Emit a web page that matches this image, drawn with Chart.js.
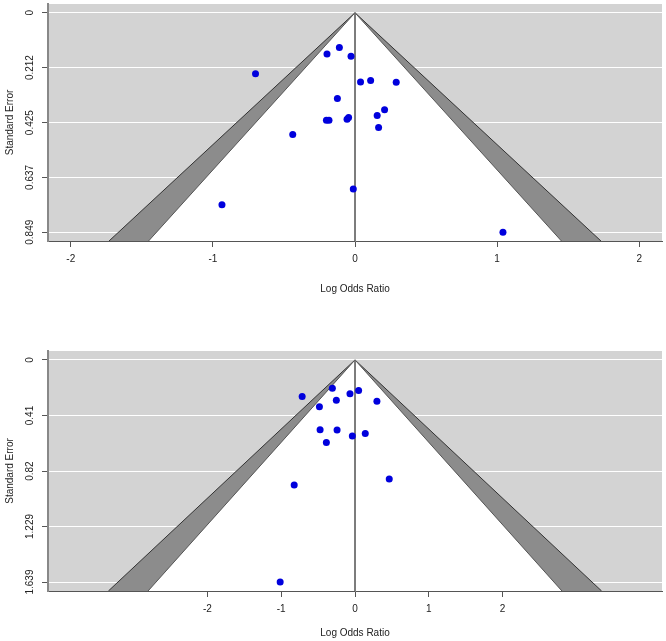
<!DOCTYPE html>
<html>
<head>
<meta charset="utf-8">
<script src="https://cdn.jsdelivr.net/npm/chart.js@4.4.1/dist/chart.umd.min.js"></script>
<style>
body { margin: 0; background: #fff; }
canvas { position: absolute; left: 0; }
#funnelTop { top: 0; }
#funnelBottom { top: 340px; }
</style>
</head>
<body>
<canvas id="funnelTop" width="666" height="300"></canvas>
<canvas id="funnelBottom" width="666" height="301"></canvas>
<script>
// top funnel plot
const topLogOR = [-0.70, -0.197, -0.110, -0.028, 0.039, 0.110, 0.290, -0.124, 0.208, 0.156,
                  0.166, -0.201, -0.183, -0.056, -0.045, -0.438, -0.012, -0.936, 1.041];
const topSE = [0.236, 0.159, 0.134, 0.168, 0.268, 0.262, 0.269, 0.332, 0.375, 0.397,
               0.444, 0.416, 0.416, 0.412, 0.405, 0.471, 0.682, 0.743, 0.849];
const topYTicks = [0, 0.212, 0.425, 0.637, 0.849];
const topYLabels = ['0', '0.212', '0.425', '0.637', '0.849'];
const topXTicks = [-2, -1, 0, 1, 2];
const topXLabels = ['-2', '-1', '0', '1', '2'];

// bottom funnel plot
const botLogOR = [-0.307, -0.716, -0.068, 0.049, -0.253, -0.482, 0.297, -0.473, -0.243, -0.036,
                  0.139, -0.388, -0.824, 0.464, -1.014];
const botSE = [0.208, 0.270, 0.250, 0.226, 0.297, 0.346, 0.305, 0.515, 0.517, 0.562,
               0.542, 0.609, 0.923, 0.879, 1.639];
const botYTicks = [0, 0.41, 0.82, 1.229, 1.639];
const botYLabels = ['0', '0.41', '0.82', '1.229', '1.639'];
const botXTicks = [-2, -1, 0, 1, 2];
const botXLabels = ['-2', '-1', '0', '1', '2'];

// contour levels: white inside 90%, dark grey between 90% and 95%
const zInner = 1.645, zOuter = 1.96;

const FONT = "'Liberation Sans', Arial, sans-serif";
Chart.defaults.font.family = FONT;
Chart.defaults.font.size = 10;
Chart.defaults.color = '#222';

const greyBg = {
  id: 'greyBg',
  beforeDraw(chart) {
    const a = chart.chartArea, ctx = chart.ctx;
    ctx.save();
    ctx.fillStyle = '#d3d3d3';
    ctx.fillRect(a.left, a.top, a.right - a.left, a.bottom - a.top);
    ctx.restore();
  }
};

function funnel(id, logOR, se, o) {
  const yMax = o.yMax;
  const outer = [{x: -zOuter * yMax, y: yMax}, {x: 0, y: 0}, {x: zOuter * yMax, y: yMax}];
  const inner = [{x: -zInner * yMax, y: yMax}, {x: 0, y: 0}, {x: zInner * yMax, y: yMax}];

  // rotated y tick labels, like R
  const yLabels = {
    id: 'yLabels',
    afterDraw(chart) {
      const ys = chart.scales.y, ctx = chart.ctx;
      ctx.save();
      ctx.font = '10px ' + FONT;
      ctx.fillStyle = '#222';
      ctx.textAlign = 'center';
      ctx.textBaseline = 'middle';
      o.yTicks.forEach((v, i) => {
        ctx.save();
        ctx.translate(30, ys.getPixelForValue(v));
        ctx.rotate(-Math.PI / 2);
        ctx.fillText(o.yLabels[i], 0, 0);
        ctx.restore();
      });
      ctx.restore();
    }
  };

  return new Chart(document.getElementById(id), {
    type: 'scatter',
    data: {
      datasets: [
        { data: logOR.map((v, i) => ({x: v, y: se[i]})), backgroundColor: '#0000dd',
          pointRadius: 3.5, pointBorderWidth: 0, order: 0 },
        { type: 'line', data: [{x: 0, y: 0}, {x: 0, y: yMax}], borderColor: '#6a6a6a',
          borderWidth: 1, pointRadius: 0, fill: false, order: 1 },
        { type: 'line', data: inner, borderColor: '#555', borderWidth: 1, pointRadius: 0,
          tension: 0, fill: {value: yMax}, backgroundColor: '#ffffff', order: 2, clip: 0 },
        { type: 'line', data: outer, borderColor: '#333', borderWidth: 1, pointRadius: 0,
          tension: 0, fill: {value: yMax}, backgroundColor: '#8c8c8c', order: 3, clip: 0 }
      ]
    },
    options: {
      responsive: false,
      animation: false,
      events: [],
      layout: { padding: { top: o.padTop, right: 3, left: 0, bottom: 0 } },
      plugins: { legend: { display: false }, tooltip: { enabled: false } },
      scales: {
        x: {
          type: 'linear', min: o.xMin, max: o.xMax,
          afterBuildTicks: s => { s.ticks = o.xTicks.map(v => ({value: v})); },
          afterFit: s => { s.height = o.xHeight; },
          ticks: { padding: 6, color: '#222', callback: (v, i) => o.xLabels[i] },
          grid: { drawOnChartArea: false, drawTicks: true, tickLength: 6, tickColor: '#555' },
          border: { display: true, color: '#555', width: 1 },
          title: { display: true, text: 'Log Odds Ratio', color: '#222',
                   padding: { top: 0, bottom: o.titlePad } }
        },
        y: {
          type: 'linear', reverse: true, min: o.yMin, max: yMax,
          afterBuildTicks: s => { s.ticks = o.yTicks.map(v => ({value: v})); },
          afterFit: s => { s.width = 48; },
          ticks: { display: false },
          grid: { color: '#ffffff', lineWidth: 1, drawTicks: true, tickLength: 6, tickColor: '#555' },
          border: { display: true, color: '#888', width: 2 },
          title: { display: true, text: 'Standard Error', color: '#222',
                   padding: { top: 4, bottom: 0 } }
        }
      }
    },
    plugins: [greyBg, yLabels]
  });
}

funnel('funnelTop', topLogOR, topSE, {
  xMin: -2.16, xMax: 2.16, yMin: -0.034, yMax: 0.883,
  xTicks: topXTicks, xLabels: topXLabels, yTicks: topYTicks, yLabels: topYLabels,
  padTop: 2, xHeight: 59, titlePad: 5
});

funnel('funnelBottom', botLogOR, botSE, {
  xMin: -4.16, xMax: 4.16, yMin: -0.066, yMax: 1.705,
  xTicks: botXTicks, xLabels: botXLabels, yTicks: botYTicks, yLabels: botYLabels,
  padTop: 11, xHeight: 50, titlePad: 2
});
</script>
</body>
</html>
